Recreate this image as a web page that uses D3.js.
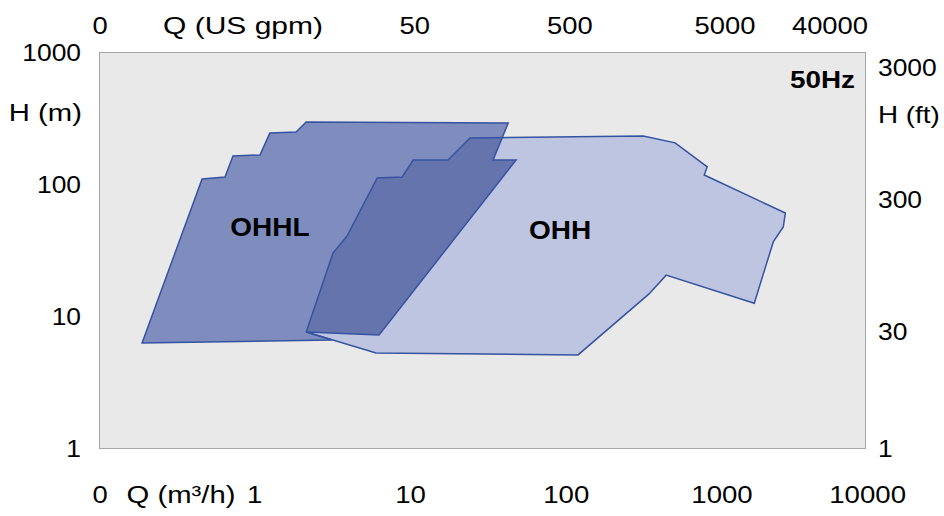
<!DOCTYPE html>
<html>
<head>
<meta charset="utf-8">
<script src="https://cdn.jsdelivr.net/npm/d3@7/dist/d3.min.js"></script>
<style>
  html, body { margin: 0; padding: 0; background: #ffffff; }
  svg text { font-family: "Liberation Sans", Arial, Helvetica, sans-serif; fill: #000; }
</style>
</head>
<body>
<svg id="chart" width="944" height="516"></svg>
<script>
// ---- data (Q in m³/h, H in m) ----
const ohhlQ = [0.189, 0.459, 0.644, 0.725, 1.08, 1.25, 1.84, 2.14, 42.4, 33.9, 47.6, 6.28, 2.14, 3.13];
const ohhlH = [6.25, 109, 113, 163, 166, 243, 248, 295, 290, 152, 152, 7.18, 7.57, 6.58];
const ohhQ = [2.14, 3.18, 3.92, 6.11, 8.84, 10.4, 17.4, 24.1, 312, 500, 803, 769, 2550, 2474, 2133, 1611, 438, 340, 119, 6.01];
const ohhH = [7.57, 30.0, 40.4, 111, 113, 152, 152, 223, 231, 205, 135, 117, 60.3, 47.2, 36.4, 12.5, 20.4, 14.7, 5.07, 5.24];
const seriesNames = ["OHHL", "OHH"];
const labelQ = [1.25, 91.4];
const labelH = [46.4, 44.8];

const bottomTicks = [1, 10, 100, 1000, 10000];
const topTicks = [50, 500, 5000, 40000];
const leftTicks = [1000, 100, 10, 1];
const rightTicks = [3000, 300, 30];

// ---- layout ----
const plot = { left: 99, right: 865, top: 52, bottom: 448 };
const svg = d3.select("#chart");

const x = d3.scaleLog().domain([0.1, 8280]).range([plot.left, plot.right]);
const y = d3.scaleLog().domain([1, 1000]).range([plot.bottom, plot.top]);
const xGpm = d3.scaleLog().domain([0.46, 40000]).range([plot.left, plot.right]);
const yFt = d3.scaleLog().domain([3.96, 3960]).range([plot.bottom, plot.top]);

// plot background
svg.append("rect")
  .attr("x", plot.left + 0.5).attr("y", plot.top + 0.5)
  .attr("width", plot.right - plot.left).attr("height", plot.bottom - plot.top)
  .attr("fill", "#e9e9e9").attr("stroke", "#a6a6a6").attr("stroke-width", 1);

const line = d3.line().x(d => x(d[0])).y(d => y(d[1]));
const ohhPts = ohhQ.map((q, i) => [q, ohhH[i]]);
const ohhlPts = ohhlQ.map((q, i) => [q, ohhlH[i]]);
const ohhPath = line(ohhPts) + "Z";
const ohhlPath = line(ohhlPts) + "Z";

svg.append("defs").append("clipPath").attr("id", "clipOHH")
  .append("path").attr("d", ohhPath);

const STROKE = "#3553a1";
svg.append("path").attr("d", ohhPath).attr("fill", "#bdc5e1");
svg.append("path").attr("d", ohhlPath).attr("fill", "#7f8cbe");
svg.append("path").attr("d", ohhlPath).attr("fill", "#6574ad").attr("clip-path", "url(#clipOHH)");
svg.append("path").attr("d", ohhPath).attr("fill", "none").attr("stroke", STROKE).attr("stroke-width", 1.5);
svg.append("path").attr("d", ohhlPath).attr("fill", "none").attr("stroke", STROKE).attr("stroke-width", 1.5);

// text helper with horizontal stretch around anchor point
function label(px, py, str, opts = {}) {
  const sx = opts.sx || 1.14;
  const t = svg.append("text")
    .attr("transform", `translate(${px},${py}) scale(${sx},1)`)
    .attr("text-anchor", opts.anchor || "middle")
    .attr("dominant-baseline", "central")
    .attr("font-size", opts.size || 24)
    .attr("font-weight", opts.bold ? "bold" : null)
    .text(str);
  return t;
}
function textWidth(t, sx) { return t.node().getComputedTextLength() * (sx || 1.14); }

// series labels
seriesNames.forEach((n, i) => label(x(labelQ[i]), y(labelH[i]), n, { size: 25, bold: true, sx: 1.12 }));

// 50Hz
label(plot.right - 10, 80, "50Hz", { anchor: "end", size: 24, bold: true, sx: 1.16 });

// left axis
leftTicks.forEach(v => label(81, y(v), d3.format("d")(v), { anchor: "end", sx: 1.1 }));
label(82, 113, "H (m)", { anchor: "end", sx: 1.22 });

// right axis
rightTicks.forEach(v => label(878, yFt(v), d3.format("d")(v), { anchor: "start", sx: 1.1 }));
label(878, 115, "H (ft)", { anchor: "start", sx: 1.16 });
label(878, plot.bottom, "1", { anchor: "start", sx: 1.1 });

// top axis
const topY = 26;
label(plot.left + 1, topY, "0", { sx: 1.14 });
label(243, topY, "Q (US gpm)", { sx: 1.25 });
topTicks.forEach(v => {
  const t = label(0, topY, d3.format("d")(v), { sx: 1.14 });
  const w = textWidth(t, 1.14);
  t.attr("transform", `translate(${Math.min(xGpm(v), plot.right + 3 - w / 2)},${topY}) scale(1.14,1)`);
});

// bottom axis
const botY = 495;
label(plot.left + 1, botY, "0", { sx: 1.14 });
label(181, botY, "Q (m³/h)", { sx: 1.22 });
bottomTicks.forEach(v => {
  const t = label(0, botY, d3.format("d")(v), { sx: 1.15 });
  const w = textWidth(t, 1.15);
  t.attr("transform", `translate(${Math.min(x(v), 906 - w / 2)},${botY}) scale(1.15,1)`);
});
</script>
</body>
</html>
